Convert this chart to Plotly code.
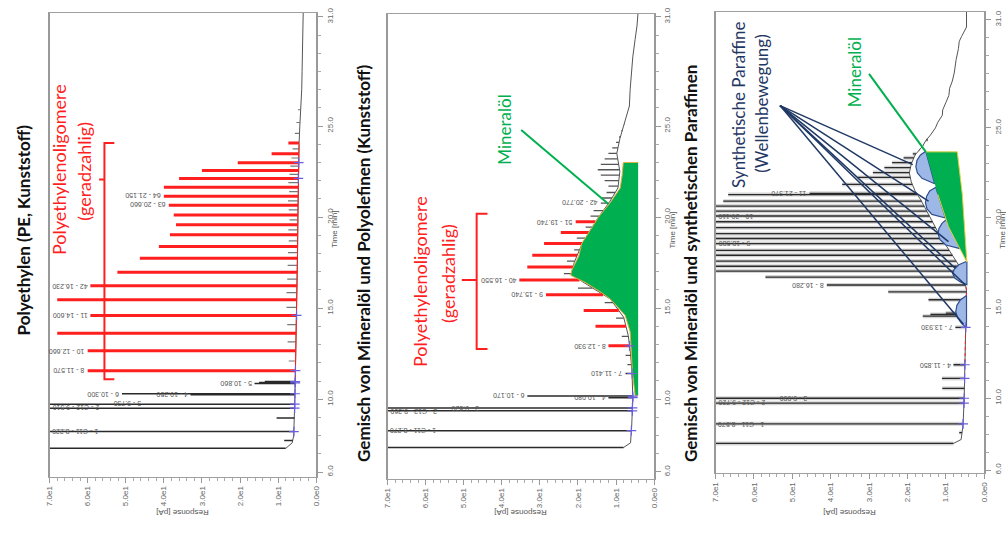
import numpy as np
import plotly.graph_objects as go

W, H = 1006, 541

# ---------------- Panel 1: Polyethylen (PE) ----------------
P1_BASE_T = [7.3, 7.6, 8.0, 9.0, 10.0, 11.0, 12.0, 14.0, 16.0, 18.0, 20.0, 22.0, 24.0, 25.0, 26.0, 27.0, 28.0, 29.0, 30.0, 31.3]
P1_BASE_R = [8.0, 6.3, 5.9, 5.7, 5.6, 5.5, 5.4, 5.2, 5.0, 4.9, 4.8, 4.7, 4.5, 4.3, 4.0, 3.8, 3.7, 3.6, 3.5, 3.4]

P1_RED_T = [11.57, 12.66, 13.63, 14.60, 15.47, 16.23, 16.98, 17.74, 18.39, 19.04,
            19.58, 20.12, 20.66, 21.15, 21.64, 22.13, 22.56, 22.99, 23.48, 24.07]
P1_RED_H = [60.0, 60.0, 68.0, 59.3, 68.0, 59.3, 52.2, 46.3, 41.3, 38.4,
            36.8, 37.4, 38.7, 40.0, 40.0, 36.0, 30.0, 20.6, 11.7, 7.3]
P1_RED_ID = ["8", "10", "", "11", "", "42", "", "", "", "",
             "", "", "63", "64", "", "", "", "", "", ""]

P1_BLACK_T = [7.30, 7.73, 8.22, 8.97, 9.51, 9.73, 10.25, 10.30, 10.86, 10.92, 10.97]
P1_BLACK_H = [90.0, 8.4, 90.0, 10.4, 90.0, 90.0, 33.0, 51.0, 16.2, 15.0, 13.5]
P1_BLACK_ID = ["", "", "1 - C11", "", "2 - C12", "3", "4", "6", "5", "", ""]

P1_MINOR_T = [12.1, 13.15, 14.1, 15.05, 15.85, 16.6, 17.35, 18.05, 18.7, 19.3, 19.85,
              20.4, 20.9, 21.4, 21.9, 22.35, 22.8, 23.25, 23.75, 24.6, 25.2, 25.9]
P1_MINOR_H = [7.2, 7.5, 7.6, 7.8, 7.8, 7.6, 7.5, 7.4, 7.2, 7.3, 7.0,
              7.2, 7.4, 7.1, 7.3, 7.0, 6.8, 6.5, 6.2, 5.6, 5.2, 4.8]

P1_MARK_T = [8.22, 9.51, 9.73, 10.30, 10.90, 10.97, 11.57, 14.60, 22.13, 23.00]

# ---------------- Panel 2: Mineraloel + Polyolefine ----------------
P2_BASE_T = [7.35, 7.6, 8.5, 10.0, 11.5, 12.5, 13.5, 14.5, 15.5, 16.2, 16.8, 17.5, 18.5, 19.3,
             20.0, 20.8, 21.6, 22.5, 23.5, 24.3, 25.0, 25.6, 26.1, 27.0, 27.9, 28.8, 29.75, 30.5, 31.3]
P2_BASE_R = [8.0, 6.2, 5.9, 5.6, 5.8, 6.2, 6.8, 8.0, 11.5, 17.0, 21.5, 21.0, 19.0, 16.7,
             14.6, 11.8, 9.5, 9.0, 9.8, 9.0, 8.0, 7.3, 6.5, 6.3, 6.0, 5.6, 5.0, 4.5, 4.2]

P2_RED_T = [12.93, 14.00, 14.87, 15.74, 16.55, 17.26, 17.90, 18.55, 19.15, 19.74]
P2_RED_H = [12.0, 15.4, 18.5, 28.4, 35.4, 33.3, 32.0, 28.9, 24.5, 20.6]
P2_RED_ID = ["8", "", "", "9", "40", "", "", "", "", "51"]

P2_BLACK_T = [7.35, 8.27, 9.36, 9.52, 10.08, 10.17, 11.41]
P2_BLACK_H = [90.0, 90.0, 90.0, 90.0, 12.0, 33.3, 7.5]
P2_BLACK_ID = ["", "1 - C11", "2 - C12", "3", "4", "6", "7"]

P2_HUMP_T = [11.9, 12.4, 13.45, 14.45, 15.3, 16.1, 16.9, 17.58, 18.2, 18.85, 19.45, 20.05, 20.35,
             20.77, 21.05, 21.35, 21.7, 22.0, 22.3, 22.6, 22.9, 23.2, 23.5, 23.8, 24.1, 24.4,
             24.75, 25.1, 25.6, 26.1]
P2_HUMP_H = [7.0, 7.5, 8.5, 10.0, 13.0, 20.0, 23.7, 22.9, 21.0, 20.3, 18.0, 16.7, 15.9,
             14.0, 13.8, 12.5, 12.0, 13.0, 14.0, 14.8, 14.0, 13.0, 12.0, 11.0, 10.0, 9.2,
             8.6, 7.8, 7.3, 6.6]
P2_HUMP_ID = [""] * 13 + ["42"] + [""] * 16

P2_MARK_T = [8.27, 9.36, 9.52, 10.08, 10.17, 11.41, 12.93]

# unresolved mineral-oil hump (MOSH) area
P2_OIL_T = [23.0, 23.0, 22.3, 21.6, 20.8, 20.0, 19.3, 18.55, 17.85, 17.1, 16.8, 16.4,
            15.85, 15.5, 14.6, 13.7, 11.5, 10.2, 10.2]
P2_OIL_R = [4.2, 8.1, 8.4, 8.9, 11.5, 14.6, 16.7, 19.0, 19.8, 21.6, 21.9, 18.0,
            13.8, 11.5, 7.6, 6.3, 5.7, 5.0, 4.2]

# ---------------- Panel 3: Mineraloel + synthetische Paraffine ----------------
P3_BASE_T = [7.48, 7.7, 8.5, 10.0, 12.0, 14.0, 16.0, 17.0, 18.0, 19.0, 20.0, 21.0, 21.5, 22.0,
             22.5, 23.0, 23.5, 24.0, 24.3, 24.6, 25.0, 25.3, 25.7, 26.0, 26.4, 26.8, 27.2, 27.6,
             28.05, 28.5, 28.8, 29.4, 29.8, 30.07, 30.6, 31.5]
P3_BASE_R = [8.0, 6.0, 5.5, 5.2, 5.0, 4.8, 4.6, 5.5, 8.5, 11.5, 14.0, 16.5, 18.0, 19.0,
             19.5, 19.0, 18.0, 16.0, 15.2, 14.0, 12.7, 12.1, 10.9, 10.8, 10.0, 9.2, 9.0, 8.3,
             7.8, 7.6, 7.3, 6.7, 6.5, 5.9, 4.6, 4.6]

P3_BLACK_T = [7.48, 8.08, 8.57, 9.72, 9.99, 10.54, 11.09, 11.85, 13.93, 14.55, 14.64, 14.72,
              15.46, 15.90, 16.28, 16.72, 17.05, 17.32, 17.60, 17.93, 18.20, 18.58, 18.86,
              19.13, 19.46, 19.79, 20.11, 20.38, 20.66, 20.93, 21.30, 21.37]
P3_BLACK_H = [90.0, 6.5, 90.0, 90.0, 90.0, 10.9, 11.0, 8.0, 7.5, 16.0, 14.0, 10.0,
              14.5, 25.0, 41.0, 57.0, 90.0, 90.0, 90.0, 90.0, 90.0, 90.0, 90.0,
              90.0, 90.0, 90.0, 90.0, 90.0, 90.0, 68.0, 66.7, 45.5]
P3_BLACK_ID = ["", "", "1 - C11", "2 - C12", "3", "", "", "4", "7", "", "", "",
               "", "", "8", "", "", "", "", "", "", "9", "",
               "", "", "", "10", "", "", "", "", "11"]

P3_TAIL_T = [21.86, 22.25, 22.52, 22.79, 23.07, 23.34, 23.56, 23.78, 24.05, 24.33]
P3_TAIL_H = [37.0, 33.0, 29.0, 26.0, 24.0, 21.0, 18.6, 17.0, 15.8, 14.7]

P3_MARK_T = [8.57, 9.72, 9.99, 11.09, 11.85, 13.93]

P3_OIL_T = [23.67, 23.67, 21.32, 17.55, 19.51, 21.32]
P3_OIL_R = [15.2, 7.0, 5.7, 4.5, 9.3, 12.1]

# wave-like humps of the synthetic paraffins (outer scallop, closed along the oil edge)
P3_WAVES = [
    ([23.7, 23.5, 23.2, 22.85, 22.5, 22.2, 21.9], [15.2, 16.6, 17.5, 17.8, 17.4, 16.2, 12.9]),
    ([21.7, 21.5, 21.2, 20.85, 20.5, 20.2, 20.0], [12.6, 14.2, 15.0, 15.3, 14.9, 13.6, 10.1]),
    ([19.9, 19.7, 19.4, 19.1, 18.8, 18.5, 18.3], [9.9, 11.0, 11.8, 12.0, 11.5, 10.0, 6.3]),
    ([17.6, 17.4, 17.15, 16.9, 16.65, 16.45, 16.3], [4.5, 6.6, 7.8, 8.2, 7.6, 6.2, 4.5]),
    ([15.7, 15.45, 15.15, 14.8, 14.45, 14.15, 13.9], [4.6, 6.2, 7.1, 7.4, 6.9, 5.9, 4.6]),
]
P3_WAVE_TARGETS = [(18.6, 22.96), (14.5, 20.93), (9.3, 18.69), (7.5, 17.2), (4.9, 16.28), (5.4, 14.1)]

RESP_TICKS = [70, 60, 50, 40, 30, 20, 10, 0]
RESP_TEXT = ["7.0e1", "6.0e1", "5.0e1", "4.0e1", "3.0e1", "2.0e1", "1.0e1", "0.0e0"]
TIME_TICKS = [6, 10, 15, 20, 25, 31]
TIME_TEXT = ["6.0", "10.0", "15.0", "20.0", "25.0", "31.0"]

RED = "#ff1f1f"
GREEN = "#00b050"
NAVY = "#1f3864"
PEAK = "#2a2a2a"
FONT = "Lato"


def px(x):
    return x / W


def py(y):
    return 1 - y / H


def segments(times, heights, base_t, base_r):
    xs, ys = [], []
    for t, h in zip(times, heights):
        foot = float(np.interp(t, base_t, base_r))
        xs += [foot, h, None]
        ys += [t, t, None]
    return xs, ys


fig = go.Figure()
annotations = []
shapes = []

panels = [
    dict(ax="x", ay="y", xd=(46, 315), yd=(6, 477), yr=(5.73, 31.22)),
    dict(ax="x2", ay="y2", xd=(387, 656), yd=(7, 479), yr=(5.62, 31.16)),
    dict(ax="x3", ay="y3", xd=(718, 989), yd=(5, 473), yr=(5.84, 31.44)),
]


def add_line(p, xs, ys, color, width, dash=None, opacity=1.0):
    fig.add_trace(go.Scatter(x=xs, y=ys, mode="lines", xaxis=p["ax"], yaxis=p["ay"],
                             line=dict(color=color, width=width, dash=dash),
                             opacity=opacity, hoverinfo="skip", showlegend=False))


def add_peak_labels(p, times, heights, ids):
    # labels of off-scale peaks sit at the plot edge; a neighbouring one is set after it
    prev_edge_t = None
    for t, h, pid in zip(times, heights, ids):
        if not pid:
            continue
        clipped = h >= 70
        shift = -1
        if clipped:
            shift = 1
            if prev_edge_t is not None and t - prev_edge_t < 0.5:
                shift = 62
            prev_edge_t = t
        annotations.append(dict(
            x=70 if clipped else h, y=t, xref=p["ax"], yref=p["ay"],
            text=f"{pid} - {t:.3f}", showarrow=False, textangle=180,
            xanchor="left" if clipped else "right", yanchor="middle", xshift=shift,
            font=dict(family="Liberation Sans", size=7, color="#555")))


def add_marks(p, times, base_t, base_r):
    fig.add_trace(go.Scatter(
        x=[float(np.interp(t, base_t, base_r)) for t in times], y=times, mode="markers",
        xaxis=p["ax"], yaxis=p["ay"], hoverinfo="skip", showlegend=False,
        marker=dict(symbol="cross-thin", size=7, line=dict(color="#6a5fe0", width=1.2))))


# ---- panel 1
p = panels[0]
add_line(p, P1_BASE_R, P1_BASE_T, "#555", 1)
xs, ys = segments(P1_MINOR_T, P1_MINOR_H, P1_BASE_T, P1_BASE_R)
add_line(p, xs, ys, "#777", 1.2)
xs, ys = segments(P1_BLACK_T, P1_BLACK_H, P1_BASE_T, P1_BASE_R)
add_line(p, xs, ys, PEAK, 1.5)
xs, ys = segments(P1_RED_T, P1_RED_H, P1_BASE_T, P1_BASE_R)
add_line(p, xs, ys, RED, 3)
add_line(p, P1_BASE_R[5:13], P1_BASE_T[5:13], RED, 1)
add_marks(p, P1_MARK_T, P1_BASE_T, P1_BASE_R)
add_peak_labels(p, P1_BLACK_T, P1_BLACK_H, P1_BLACK_ID)
add_peak_labels(p, P1_RED_T, P1_RED_H, P1_RED_ID)

# ---- panel 2
p = panels[1]
add_line(p, P2_BASE_R, P2_BASE_T, "#555", 1)
xs, ys = segments(P2_HUMP_T, P2_HUMP_H, P2_BASE_T, P2_BASE_R)
add_line(p, xs, ys, "#555", 1.3)
xs, ys = segments(P2_BLACK_T, P2_BLACK_H, P2_BASE_T, P2_BASE_R)
add_line(p, xs, ys, PEAK, 1.5)
xs, ys = segments(P2_RED_T, P2_RED_H, P2_BASE_T, P2_BASE_R)
add_line(p, xs, ys, RED, 3)
fig.add_trace(go.Scatter(x=P2_OIL_R, y=P2_OIL_T, mode="lines", fill="toself", fillcolor=GREEN,
                         line=dict(color="#e0b040", width=1), xaxis="x2", yaxis="y2",
                         hoverinfo="skip", showlegend=False))
add_marks(p, P2_MARK_T, P2_BASE_T, P2_BASE_R)
add_peak_labels(p, P2_BLACK_T, P2_BLACK_H, P2_BLACK_ID)
add_peak_labels(p, P2_RED_T, P2_RED_H, P2_RED_ID)
add_peak_labels(p, P2_HUMP_T, P2_HUMP_H, P2_HUMP_ID)

# ---- panel 3
p = panels[2]
add_line(p, P3_BASE_R, P3_BASE_T, "#555", 1)
xs, ys = segments(P3_BLACK_T + P3_TAIL_T, P3_BLACK_H + P3_TAIL_H, P3_BASE_T, P3_BASE_R)
add_line(p, xs, ys, "#888", 4, opacity=0.35)
add_line(p, xs, ys, PEAK, 1.3)
add_line(p, P3_BASE_R[4:8], P3_BASE_T[4:8], RED, 1, dash="dot")
for wt, wr in P3_WAVES:
    fig.add_trace(go.Scatter(x=wr + [wr[0]], y=wt + [wt[0]], mode="lines", fill="toself",
                             fillcolor="#9db7e6", line=dict(color="#2f4f8f", width=1.2),
                             xaxis="x3", yaxis="y3", hoverinfo="skip", showlegend=False))
fig.add_trace(go.Scatter(x=P3_OIL_R, y=P3_OIL_T, mode="lines", fill="toself", fillcolor=GREEN,
                         line=dict(color="#e0d040", width=1), xaxis="x3", yaxis="y3",
                         hoverinfo="skip", showlegend=False))
add_marks(p, P3_MARK_T, P3_BASE_T, P3_BASE_R)
add_peak_labels(p, P3_BLACK_T, P3_BLACK_H, P3_BLACK_ID)

# ---- axes
layout_axes = {}
for i, p in enumerate(panels):
    sx = "" if i == 0 else str(i + 1)
    layout_axes[f"xaxis{sx}"] = dict(
        domain=[px(p["xd"][0]), px(p["xd"][1])], range=[70, 0], anchor=p["ay"],
        showline=True, linecolor="#a0a0a0", linewidth=1, mirror=True, showgrid=False, zeroline=False,
        ticks="outside", ticklen=5, tickcolor="#999", tickvals=RESP_TICKS, ticktext=RESP_TEXT,
        tickangle=-90, tickfont=dict(family="Liberation Sans", size=8, color="#666"),
        minor=dict(ticks="outside", ticklen=3, dtick=2, tick0=0, tickcolor="#aaa"))
    layout_axes[f"yaxis{sx}"] = dict(
        domain=[py(p["yd"][1]), py(p["yd"][0])], range=list(p["yr"]), anchor=p["ax"], side="right",
        showline=True, linecolor="#999", linewidth=1.5, mirror=True, showgrid=False, zeroline=False,
        ticks="outside", ticklen=5, tickcolor="#999", tickvals=TIME_TICKS, ticktext=TIME_TEXT,
        tickangle=-90, tickfont=dict(family="Liberation Sans", size=8, color="#666"),
        minor=dict(ticks="outside", ticklen=3, dtick=1, tick0=0, tickcolor="#aaa"))
    xc = (p["xd"][0] + p["xd"][1]) / 2
    annotations.append(dict(x=px(xc), y=py(513), xref="paper", yref="paper", text="Response [pA]",
                            showarrow=False, textangle=180, xanchor="center", yanchor="middle",
                            font=dict(family="Liberation Sans", size=8, color="#555")))
    annotations.append(dict(x=px(p["xd"][1] + 19), y=py(226), xref="paper", yref="paper",
                            text="Time [min]", showarrow=False, textangle=-90,
                            xanchor="center", yanchor="middle",
                            font=dict(family="Liberation Sans", size=8, color="#555")))

# ---- panel titles
TITLES = [("Polyethylen (PE, Kunststoff)", 20, 226),
          ("Gemisch von Mineralöl und Polyolefinen (Kunststoff)", 362, 260),
          ("Gemisch von Mineralöl und synthetischen Paraffinen", 692, 260)]
for text, x, y in TITLES:
    annotations.append(dict(x=px(x), y=py(y), xref="paper", yref="paper", text=f"<b>{text}</b>",
                            showarrow=False, textangle=-90, xanchor="center", yanchor="middle",
                            font=dict(family=FONT, size=17, color="#111")))


# ---- group annotations
def note(text, x, y, color, size=17):
    annotations.append(dict(x=px(x), y=py(y), xref="paper", yref="paper", text=text,
                            showarrow=False, textangle=-90, xanchor="center", yanchor="middle",
                            font=dict(family=FONT, size=size, color=color)))


note("Polyethylenoligomere", 55, 165, RED, 18)
note("(geradzahlig)", 80, 167, RED, 18)
note("Polyethylenoligomere", 420, 279, RED, 18)
note("(geradzahlig)", 448, 270, RED, 18)
note("Mineralöl", 505, 124, GREEN)
note("Mineralöl", 858, 66, GREEN)
note("Synthetische Paraffine", 741, 99, NAVY)
note("(Wellenbewegung)", 764, 98, NAVY)


def bracket(xref, yref, xv, t_lo, t_hi, tip, t_mid, mid):
    path = (f"M {tip},{t_hi} L {xv},{t_hi} L {xv},{t_lo} L {tip},{t_lo} "
            f"M {xv},{t_mid} L {mid},{t_mid}")
    shapes.append(dict(type="path", path=path, xref=xref, yref=yref,
                       line=dict(color=RED, width=2)))


bracket("x", "y", 55.6, 11.09, 24.07, 53.0, 22.07, 57.0)
bracket("x2", "y2", 46.6, 12.76, 20.18, 43.75, 16.55, 50.5)

shapes.append(dict(type="line", xref="x2", yref="y2", x0=34.9, y0=24.78, x1=12.0, y1=20.72,
                   line=dict(color=GREEN, width=2)))
shapes.append(dict(type="line", xref="x3", yref="y3", x0=30.0, y0=28.0, x1=15.2, y1=23.67,
                   line=dict(color=GREEN, width=2)))
for r, t in P3_WAVE_TARGETS:
    shapes.append(dict(type="line", xref="x3", yref="y3", x0=53.2, y0=26.24, x1=r, y1=t,
                       line=dict(color=NAVY, width=1.5)))

fig.update_layout(width=W, height=H, margin=dict(l=0, r=0, t=0, b=0),
                  paper_bgcolor="white", plot_bgcolor="white", showlegend=False,
                  annotations=annotations, shapes=shapes, **layout_axes)

fig.write_html("out.html")
